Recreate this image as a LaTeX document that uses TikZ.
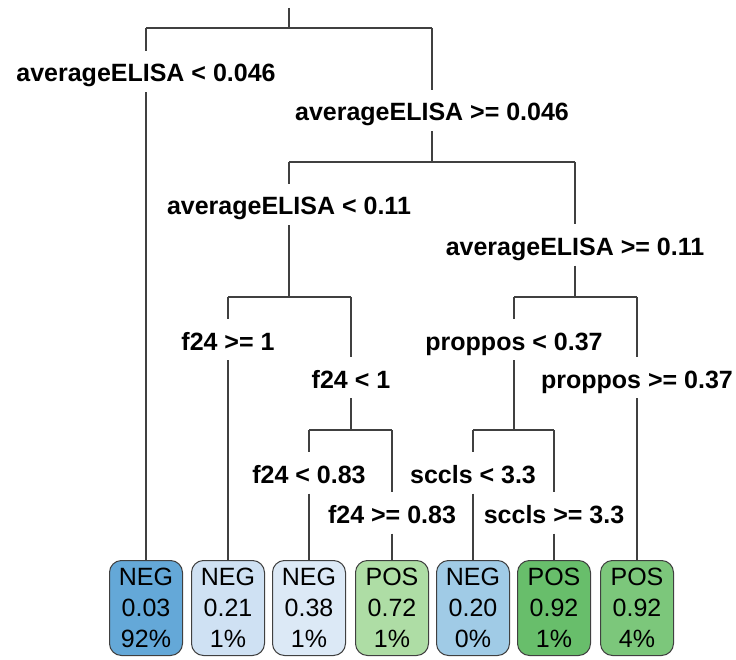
\documentclass[tikz,border=0pt]{standalone}
\usepackage{fontspec}
\setmainfont{Liberation Sans}
\definecolor{negA}{HTML}{64A8D8}
\definecolor{negB}{HTML}{CFE1F3}
\definecolor{negC}{HTML}{DCE9F6}
\definecolor{negD}{HTML}{A0CBE6}
\definecolor{posA}{HTML}{AEDDA5}
\definecolor{posB}{HTML}{68BE6B}
\definecolor{posC}{HTML}{7CC77B}
\definecolor{edgegray}{HTML}{404040}
\begin{document}
\begin{tikzpicture}[x=1pt,y=-1pt,
   every node/.style={font=\fontsize{25}{31}\selectfont},
   split/.style={font=\fontsize{25}{31}\selectfont\bfseries,inner xsep=2pt,
      inner ysep=7pt,text height=24pt,text depth=3pt},
   leaf/.style={draw=edgegray,line width=1pt,rounded corners=12pt,anchor=north,
      minimum width=73pt,minimum height=95pt,inner sep=0pt,align=center},
   branch/.style={draw=edgegray,line width=1.5pt}]
\useasboundingbox (0,0) rectangle (736,660);
% leaves
\foreach \n/\x/\c/\t in {1/146/negA/{NEG\\0.03\\92\%},2/228/negB/{NEG\\0.21\\1\%},
   3/309/negC/{NEG\\0.38\\1\%},4/392/posA/{POS\\0.72\\1\%},5/473/negD/{NEG\\0.20\\0\%},
   6/554/posB/{POS\\0.92\\1\%},7/637/posC/{POS\\0.92\\4\%}}
   \node[leaf,fill=\c] (leaf\n) at (\x,560) {\t};
% splits
\node[split] (lo046) at (146,71.5) {averageELISA < 0.046};
\node[split] (hi046) at (432,110.5) {averageELISA >= 0.046};
\node[split] (lo011) at (289,204.5) {averageELISA < 0.11};
\node[split] (hi011) at (575,245) {averageELISA >= 0.11};
\node[split] (hif1) at (228,339.5) {f24 >= 1};
\node[split] (lof1) at (351,377.5) {f24 < 1};
\node[split] (lo083) at (309,473) {f24 < 0.83};
\node[split] (hi083) at (392,513) {f24 >= 0.83};
\node[split] (lo037) at (514,339.5) {proppos < 0.37};
\node[split] (hi037) at (637,377.5) {proppos >= 0.37};
\node[split] (lo33) at (473,473) {sccls < 3.3};
\node[split] (hi33) at (554,513) {sccls >= 3.3};
% bars
\coordinate (root) at (289,8);
\coordinate (b1l) at (146,28); \coordinate (b1r) at (432,28);
\coordinate (b2l) at (289,162); \coordinate (b2r) at (575,162);
\coordinate (b3l) at (228,297); \coordinate (b3r) at (351,297);
\coordinate (b4l) at (309,430); \coordinate (b4r) at (392,430);
\coordinate (b5l) at (514,297); \coordinate (b5r) at (637,297);
\coordinate (b6l) at (473,430); \coordinate (b6r) at (554,430);
\draw[branch] (root) -- (root |- b1l) (b1l) -- (b1r);
\draw[branch] (b1l) -- (lo046.north) (lo046.south) -- (leaf1.north);
\draw[branch] (b1r) -- (hi046.north) (hi046.south) -- (hi046 |- b2l) (b2l) -- (b2r);
\draw[branch] (b2l) -- (lo011.north) (lo011.south) -- (lo011 |- b3l) (b3l) -- (b3r);
\draw[branch] (b2r) -- (hi011.north) (hi011.south) -- (hi011 |- b5l) (b5l) -- (b5r);
\draw[branch] (b3l) -- (hif1.north) (hif1.south) -- (leaf2.north);
\draw[branch] (b3r) -- (lof1.north) (lof1.south) -- (lof1 |- b4l) (b4l) -- (b4r);
\draw[branch] (b4l) -- (lo083.north) (lo083.south) -- (leaf3.north);
\draw[branch] (b4r) -- (hi083.north) (hi083.south) -- (leaf4.north);
\draw[branch] (b5l) -- (lo037.north) (lo037.south) -- (lo037 |- b6l) (b6l) -- (b6r);
\draw[branch] (b5r) -- (hi037.north) (hi037.south) -- (leaf7.north);
\draw[branch] (b6l) -- (lo33.north) (lo33.south) -- (leaf5.north);
\draw[branch] (b6r) -- (hi33.north) (hi33.south) -- (leaf6.north);
\end{tikzpicture}
\end{document}
